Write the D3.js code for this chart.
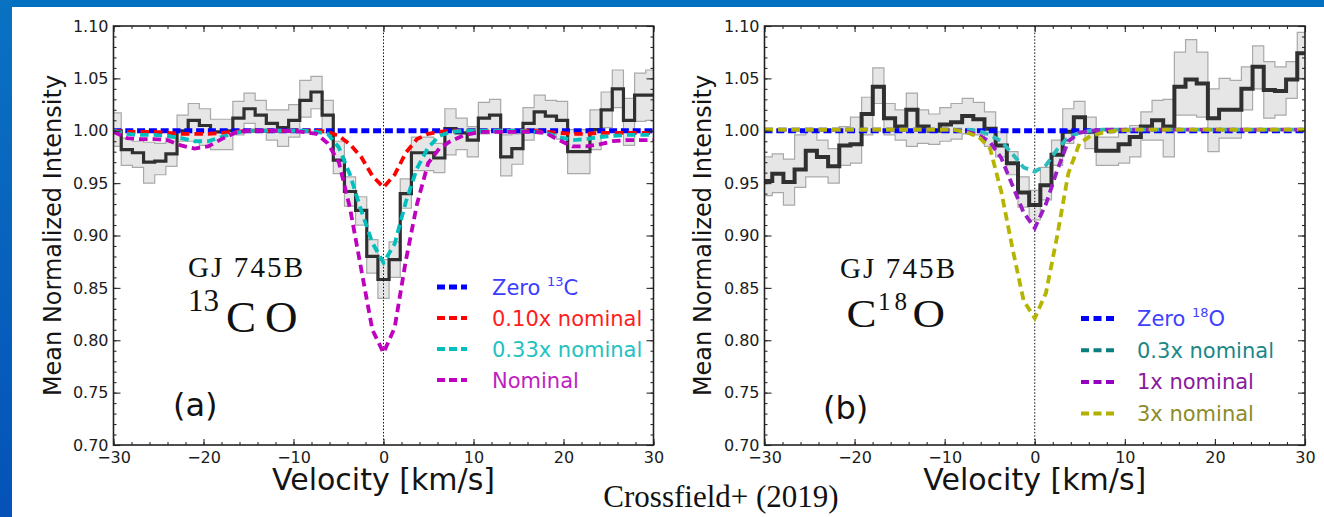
<!DOCTYPE html>
<html>
<head>
<meta charset="utf-8">
<script src="https://cdn.jsdelivr.net/npm/d3@7"></script>
<style>
  html, body { margin: 0; padding: 0; background: #ffffff; }
  svg { display: block; }
  text { font-family: "DejaVu Sans", sans-serif; }
</style>
</head>
<body>
<svg id="fig" width="1324" height="517"></svg>
<script>
// ---------- velocity grids ----------
const binVel = [-29.76,-28.52,-27.28,-26.04,-24.80,-23.56,-22.32,-21.08,-19.84,-18.60,-17.36,-16.12,
  -14.88,-13.64,-12.40,-11.16,-9.92,-8.68,-7.44,-6.20,-4.96,-3.72,-2.48,-1.24,0,
  1.24,2.48,3.72,4.96,6.20,7.44,8.68,9.92,11.16,12.40,13.64,14.88,16.12,17.36,18.60,
  19.84,21.08,22.32,23.56,24.80,26.04,27.28,28.52,29.76];
const binWidth = 1.24;
const modelVel = [-30,-28.5,-27,-25.5,-24,-22.5,-21,-19.5,-18,-16.5,-15,-13,-11,-9,
  -7.44,-6.2,-4.96,-3.72,-2.48,-1.24,0,1.24,2.48,3.72,4.96,6.2,7.44,
  9,11,13,15,16.5,18,19.5,21,22.5,24,25.5,27,28.5,30];
const zeroVel = [-30, 30];
const zeroLevel = [1.000, 1.000];

// ---------- (a) 13CO ----------
const co13Mean = [1.000,0.982,0.979,0.970,0.971,0.978,1.000,1.010,1.005,0.999,1.000,1.012,1.021,1.015,1.007,1.003,
  1.010,1.029,1.037,1.015,0.972,0.942,0.924,0.880,0.858,0.877,0.940,0.979,0.979,0.974,1.002,0.998,0.991,
  1.012,1.015,0.975,0.983,1.007,1.018,1.014,1.010,0.980,0.980,1.001,1.020,1.040,1.010,1.034,1.034];
const co13Hi = [1.017,0.993,0.990,0.989,0.988,0.993,1.015,1.026,1.021,1.011,1.011,1.028,1.036,1.029,1.020,1.020,
  1.025,1.048,1.052,1.029,0.990,0.956,0.937,0.896,0.877,0.894,0.954,0.994,0.994,0.988,1.021,1.012,1.004,
  1.027,1.030,0.996,0.997,1.022,1.034,1.029,1.028,1.001,1.001,1.020,1.037,1.058,1.031,1.055,1.058];
const co13Lo = [0.985,0.967,0.965,0.950,0.958,0.966,0.990,0.990,0.986,0.982,0.982,0.996,1.007,1.000,0.991,0.985,
  0.994,1.013,1.021,0.998,0.959,0.928,0.910,0.864,0.840,0.860,0.926,0.962,0.962,0.960,0.977,0.982,0.975,
  0.997,1.000,0.957,0.968,0.991,1.002,0.999,0.992,0.959,0.959,0.982,1.003,1.022,0.986,1.009,1.010];
const co13Tenth = [1.000,0.999,0.999,0.999,0.998,0.997,0.997,0.997,0.998,0.999,1.000,1.000,1.000,1.000,
  1.000,0.999,0.995,0.987,0.975,0.957,0.946,0.958,0.979,0.992,0.997,0.999,1.000,
  1.000,1.000,1.000,1.000,1.000,0.999,0.998,0.997,0.997,0.998,0.998,0.998,0.998,0.998];
const co13Third = [1.000,0.997,0.996,0.996,0.995,0.993,0.990,0.990,0.994,0.998,1.000,1.000,1.000,1.000,
  0.999,0.997,0.984,0.958,0.924,0.893,0.874,0.892,0.932,0.964,0.984,0.995,0.999,
  1.000,1.000,1.000,1.000,0.999,0.998,0.994,0.991,0.992,0.994,0.995,0.996,0.996,0.996];
const co13Nominal = [0.999,0.993,0.992,0.992,0.991,0.986,0.983,0.985,0.992,0.998,1.000,1.000,1.000,0.999,
  0.997,0.988,0.970,0.926,0.868,0.810,0.788,0.812,0.876,0.930,0.969,0.983,0.990,
  0.996,0.999,0.999,0.999,0.999,0.998,0.991,0.985,0.985,0.987,0.990,0.991,0.991,0.991];

// ---------- (b) C18O ----------
const c18oMean = [0.952,0.959,0.951,0.963,0.981,0.975,0.966,0.986,0.987,1.016,1.042,1.012,1.004,1.020,1.004,1.000,
  1.006,1.008,1.014,1.011,1.002,0.986,0.969,0.941,0.929,0.948,0.977,0.999,1.013,0.999,0.981,0.981,0.987,
  0.994,1.004,1.010,1.004,1.042,1.049,1.045,1.012,1.020,1.020,1.040,1.061,1.039,1.038,1.049,1.074];
const c18oHi = [0.975,0.978,0.973,0.996,0.999,0.991,0.983,1.004,1.013,1.032,1.060,1.026,1.020,1.036,1.020,1.016,
  1.022,1.026,1.031,1.027,1.018,0.999,0.980,0.956,0.943,0.965,0.991,1.021,1.028,1.013,0.994,0.994,0.999,
  1.005,1.018,1.029,1.030,1.075,1.087,1.075,1.040,1.050,1.048,1.061,1.081,1.066,1.061,1.066,1.094];
const c18oLo = [0.938,0.941,0.929,0.946,0.956,0.956,0.950,0.967,0.969,0.996,1.026,0.996,0.991,0.985,0.988,0.987,
  0.990,0.992,0.997,0.996,0.985,0.975,0.958,0.927,0.915,0.934,0.967,0.988,1.000,0.983,0.967,0.967,0.969,
  0.975,0.991,0.991,0.975,1.015,1.015,1.013,0.980,0.993,0.993,1.020,1.040,1.012,1.015,1.031,1.050];
const c18oThird = [1.001,1.001,1.001,1.001,1.001,1.001,1.001,1.001,1.001,1.001,1.001,1.001,1.001,1.001,
  1.001,1.000,0.996,0.990,0.978,0.965,0.961,0.967,0.982,0.994,0.998,1.000,1.001,
  1.001,1.001,1.001,1.001,1.001,1.001,1.001,1.001,1.001,1.001,1.001,1.001,1.001,1.001];
const c18oOnce = [1.001,1.001,1.001,1.001,1.001,1.001,1.001,1.001,1.001,1.001,1.001,1.001,1.001,1.001,
  0.999,0.996,0.989,0.974,0.948,0.922,0.907,0.930,0.962,0.990,0.998,1.000,1.001,
  1.001,1.001,1.001,1.001,1.001,1.001,1.001,1.001,1.001,1.001,1.001,1.001,1.001,1.001];
const c18oTriple = [1.001,1.001,1.001,1.001,1.001,1.001,1.001,1.001,1.001,1.001,1.001,1.001,1.001,1.001,
  0.998,0.994,0.983,0.942,0.888,0.838,0.821,0.845,0.899,0.959,0.988,0.995,0.998,
  1.000,1.001,1.001,1.001,1.001,1.001,1.001,1.001,1.001,1.001,1.001,1.001,1.001,1.001];

// ---------- axis ticks ----------
const xTicks = [-30, -20, -10, 0, 10, 20, 30];
const yTicks = [0.70, 0.75, 0.80, 0.85, 0.90, 0.95, 1.00, 1.05, 1.10];
const xMinor = d3.range(-30, 30.01, 2);
const yMinor = d3.range(0.70, 1.1001, 0.01);

const svg = d3.select("#fig");

// slide frame
const grad = svg.append("defs").append("linearGradient")
  .attr("id", "sideGrad").attr("x1", 0).attr("y1", 0).attr("x2", 0).attr("y2", 1);
grad.append("stop").attr("offset", "0%").attr("stop-color", "#0a72c2");
grad.append("stop").attr("offset", "100%").attr("stop-color", "#0552b8");
svg.append("rect").attr("x", 0).attr("y", 0).attr("width", 1324).attr("height", 7).attr("fill", "#0070c0");
svg.append("rect").attr("x", 0).attr("y", 0).attr("width", 12).attr("height", 517).attr("fill", "url(#sideGrad)");

function drawPanel(p) {
  const top = 26, bottom = 445;
  const x = d3.scaleLinear().domain([-30, 30]).range([p.left, p.right]);
  const y = d3.scaleLinear().domain([0.70, 1.10]).range([bottom, top]);
  const g = svg.append("g").attr("class", "panel-" + p.id);

  g.append("clipPath").attr("id", "clip-" + p.id)
    .append("rect").attr("x", p.left).attr("y", top)
    .attr("width", p.right - p.left).attr("height", bottom - top);
  const plot = g.append("g").attr("clip-path", `url(#clip-${p.id})`);

  // step series: pad half a bin at each end so the steps reach the frame
  const n = binVel.length;
  const stepPts = [{ v: binVel[0] - binWidth / 2, i: 0 }]
    .concat(binVel.map((v, i) => ({ v, i })))
    .concat([{ v: binVel[n - 1] + binWidth / 2, i: n - 1 }]);

  const band = d3.area().curve(d3.curveStep)
    .x(d => x(d.v)).y0(d => y(p.lo[d.i])).y1(d => y(p.hi[d.i]));
  plot.append("path").attr("d", band(stepPts))
    .attr("fill", "#e6e6e6").attr("stroke", "#a9a9a9").attr("stroke-width", 1.2);

  const meanLine = d3.line().curve(d3.curveStep)
    .x(d => x(d.v)).y(d => y(p.mean[d.i]));
  plot.append("path").attr("d", meanLine(stepPts))
    .attr("fill", "none").attr("stroke", "#303030").attr("stroke-width", p.meanWidth)
    .attr("stroke-linejoin", "miter");

  // zero-velocity marker
  plot.append("line").attr("x1", x(0)).attr("x2", x(0)).attr("y1", top).attr("y2", bottom)
    .attr("stroke", "#111").attr("stroke-width", 1).attr("stroke-dasharray", "1.5,1.8");

  // model spectra
  p.models.forEach(m => {
    const line = d3.line().x((d, i) => x(m.vel[i])).y(d => y(d));
    plot.append("path").attr("d", line(m.vals))
      .attr("fill", "none").attr("stroke", m.color).attr("stroke-width", m.width)
      .attr("stroke-dasharray", m.dash);
  });

  // axes with inward ticks on all four sides
  const styleAxis = sel => {
    sel.select(".domain").remove();
    sel.selectAll(".tick line").attr("stroke", "#2a2a2a").attr("stroke-width", 1.1);
    sel.selectAll(".tick text").attr("fill", "#1c1c1c").style("font-size", "16px")
      .style("font-family", "'DejaVu Sans', sans-serif");
  };
  const ticksOnly = sel => {
    sel.select(".domain").remove();
    sel.selectAll(".tick text").remove();
    sel.selectAll(".tick line").attr("stroke", "#2a2a2a").attr("stroke-width", 1.1);
  };
  const fmtX = d3.format("d");
  const fmtY = d3.format(".2f");

  g.append("g").attr("transform", `translate(0,${bottom})`)
    .call(d3.axisBottom(x).tickValues(xMinor).tickSize(-3)).call(ticksOnly);
  g.append("g").attr("transform", `translate(0,${bottom})`)
    .call(d3.axisBottom(x).tickValues(xTicks).tickSize(-6).tickPadding(7).tickFormat(fmtX)).call(styleAxis);
  g.append("g").attr("transform", `translate(0,${top})`)
    .call(d3.axisTop(x).tickValues(xMinor).tickSize(-3)).call(ticksOnly);
  g.append("g").attr("transform", `translate(0,${top})`)
    .call(d3.axisTop(x).tickValues(xTicks).tickSize(-6)).call(ticksOnly);

  g.append("g").attr("transform", `translate(${p.left},0)`)
    .call(d3.axisLeft(y).tickValues(yMinor).tickSize(-3)).call(ticksOnly);
  g.append("g").attr("transform", `translate(${p.left},0)`)
    .call(d3.axisLeft(y).tickValues(yTicks).tickSize(-7).tickPadding(5).tickFormat(fmtY)).call(styleAxis);
  g.append("g").attr("transform", `translate(${p.right},0)`)
    .call(d3.axisRight(y).tickValues(yMinor).tickSize(-3)).call(ticksOnly);
  g.append("g").attr("transform", `translate(${p.right},0)`)
    .call(d3.axisRight(y).tickValues(yTicks).tickSize(-7)).call(ticksOnly);

  g.append("rect").attr("x", p.left).attr("y", top)
    .attr("width", p.right - p.left).attr("height", bottom - top)
    .attr("fill", "none").attr("stroke", "#222").attr("stroke-width", 1.6);

  // axis titles
  g.append("text").attr("transform", `translate(${p.ylabelX},${(top + bottom) / 2}) rotate(-90)`)
    .attr("text-anchor", "middle").style("font-size", "24px").attr("fill", "#141414")
    .text("Mean Normalized Intensity");
  g.append("text").attr("x", (p.left + p.right) / 2).attr("y", 490)
    .attr("text-anchor", "middle").style("font-size", "30px").attr("fill", "#141414")
    .text("Velocity [km/s]");

  // legend
  p.legend.forEach((e, k) => {
    const cy = p.legY0 + k * p.legStep;
    g.append("line").attr("x1", p.legX0).attr("x2", p.legX0 + p.legLen)
      .attr("y1", cy).attr("y2", cy)
      .attr("stroke", e.color).attr("stroke-width", e.handleWidth)
      .attr("stroke-dasharray", p.legDash);
    const t = g.append("text").attr("x", p.legText).attr("y", cy + 7.5)
      .style("font-size", "21px").attr("fill", e.textColor);
    if (e.sup) {
      t.append("tspan").text(e.label[0]);
      t.append("tspan").attr("dy", -9).style("font-size", "13px").text(e.sup);
      t.append("tspan").attr("dy", 9).text(e.label[1]);
    } else {
      t.text(e.label[0]);
    }
  });
}

drawPanel({
  id: "a", left: 113.5, right: 653.5, ylabelX: 61,
  mean: co13Mean, hi: co13Hi, lo: co13Lo, meanWidth: 3.2,
  models: [
    { vel: zeroVel, vals: zeroLevel, color: "#0000ff", width: 5, dash: "8,3.8" },
    { vel: modelVel, vals: co13Tenth, color: "#ff0000", width: 3.8, dash: "8.5,5" },
    { vel: modelVel, vals: co13Third, color: "#00bfbf", width: 3.8, dash: "8.5,5" },
    { vel: modelVel, vals: co13Nominal, color: "#bf00bf", width: 3.8, dash: "8.5,5" }
  ],
  legX0: 437, legLen: 30, legText: 492, legY0: 287, legStep: 31, legDash: "8,4",
  legend: [
    { label: ["Zero ", "C"], sup: "13", color: "#0000ff", textColor: "#3c3cff", handleWidth: 5 },
    { label: ["0.10x nominal"], color: "#ff0000", textColor: "#ff1c1c", handleWidth: 4 },
    { label: ["0.33x nominal"], color: "#00bfbf", textColor: "#22c2c2", handleWidth: 4 },
    { label: ["Nominal"], color: "#bf00bf", textColor: "#c01ec0", handleWidth: 4 }
  ]
});

drawPanel({
  id: "b", left: 764.5, right: 1305, ylabelX: 711,
  mean: c18oMean, hi: c18oHi, lo: c18oLo, meanWidth: 4,
  models: [
    { vel: zeroVel, vals: zeroLevel, color: "#0000ff", width: 5, dash: "8,3.8" },
    { vel: modelVel, vals: c18oThird, color: "#2bbdbd", width: 3.8, dash: "8.5,5" },
    { vel: modelVel, vals: c18oOnce, color: "#9c1cc8", width: 3.8, dash: "8.5,5" },
    { vel: modelVel, vals: c18oTriple, color: "#b5b500", width: 3.8, dash: "8.5,5" }
  ],
  legX0: 1081, legLen: 33, legText: 1137, legY0: 318.5, legStep: 31.7, legDash: "8,4.5",
  legend: [
    { label: ["Zero ", "O"], sup: "18", color: "#0000ff", textColor: "#4040ff", handleWidth: 5 },
    { label: ["0.3x nominal"], color: "#0b7f7f", textColor: "#1b8787", handleWidth: 4 },
    { label: ["1x nominal"], color: "#9400c0", textColor: "#8a1a9c", handleWidth: 4 },
    { label: ["3x nominal"], color: "#b0b000", textColor: "#8c8c2a", handleWidth: 4 }
  ]
});

// target labels
const serif = "'Liberation Serif', 'Times New Roman', serif";
svg.append("text").attr("x", 188).attr("y", 277).attr("textLength", 115).attr("lengthAdjust", "spacing")
  .style("font-family", serif).style("font-size", "29px").attr("fill", "#111").text("GJ 745B");
svg.append("text").attr("x", 188).attr("y", 311)
  .style("font-family", serif).style("font-size", "31px").attr("fill", "#111").text("13");
svg.append("text").attr("x", 226).attr("y", 331.5)
  .style("font-family", serif).style("font-size", "45px").attr("fill", "#111").text("C");
svg.append("text").attr("x", 265).attr("y", 331.5)
  .style("font-family", serif).style("font-size", "45px").attr("fill", "#111").text("O");

svg.append("text").attr("x", 840).attr("y", 278).attr("textLength", 115).attr("lengthAdjust", "spacing")
  .style("font-family", serif).style("font-size", "29px").attr("fill", "#111").text("GJ 745B");
svg.append("text").attr("transform", "translate(846.5,326.7) scale(1,0.88)")
  .style("font-family", serif).style("font-size", "45px").attr("fill", "#111").text("C");
svg.append("text").attr("x", 878).attr("y", 310).attr("textLength", 29).attr("lengthAdjust", "spacing")
  .style("font-family", serif).style("font-size", "25px").attr("fill", "#111").text("18");
svg.append("text").attr("transform", "translate(912.5,326.7) scale(1,0.88)")
  .style("font-family", serif).style("font-size", "45px").attr("fill", "#111").text("O");

svg.append("text").attr("x", 173).attr("y", 416)
  .style("font-size", "32px").attr("fill", "#111").text("(a)");
svg.append("text").attr("x", 823).attr("y", 419)
  .style("font-size", "32px").attr("fill", "#111").text("(b)");

svg.append("text").attr("x", 721).attr("y", 507).attr("text-anchor", "middle")
  .style("font-family", serif).style("font-size", "31px").attr("fill", "#111").text("Crossfield+ (2019)");
</script>
</body>
</html>
